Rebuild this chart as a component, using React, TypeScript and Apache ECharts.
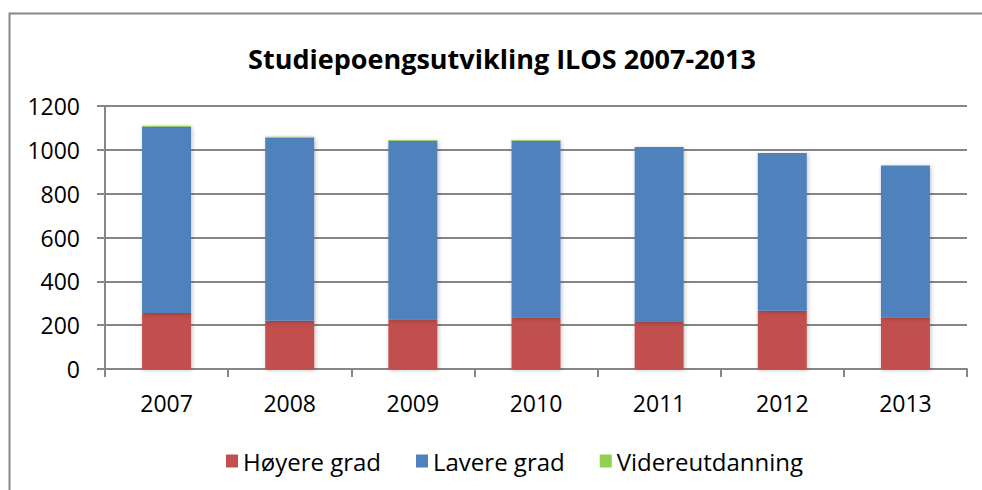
import React, { useEffect, useRef } from "react";
import * as echarts from "echarts";

const years = ["2007", "2008", "2009", "2010", "2011", "2012", "2013"];
const hoyereGrad = [255, 220, 227, 236, 214, 266, 236];
const lavereGrad = [850, 835, 815, 805, 799, 719, 693];
const videreutdanning = [5, 5, 3, 4, 0, 0, 0];
const seriesNames = ["Høyere grad", "Lavere grad", "Videreutdanning"];
const seriesColors = ["#C0504D", "#4F81BD", "#92D050"];
const titleText = "Studiepoengsutvikling ILOS 2007-2013";

const FONT = "'Open Sans', sans-serif";

export default function App() {
  const ref = useRef<HTMLDivElement>(null);
  useEffect(() => {
    document.body.style.margin = "0";
    const chart = echarts.init(ref.current!, null, { renderer: "svg" });
    const values = [hoyereGrad, lavereGrad, videreutdanning];
    chart.setOption({
      animation: false,
      backgroundColor: "#ffffff",
      title: {
        text: titleText,
        left: 497,
        top: 40,
        textAlign: "center",
        textStyle: { fontFamily: FONT, fontWeight: "bold", fontSize: 27, color: "#000" },
      },
      graphic: [
        {
          type: "rect",
          shape: { x: 9.5, y: 13.5, width: 1100, height: 600 },
          style: { fill: "none", stroke: "#888888", lineWidth: 2 },
          silent: true,
        },
      ],
      legend: {
        data: seriesNames,
        left: 221,
        top: 444,
        padding: 5,
        itemWidth: 12,
        itemHeight: 13,
        itemGap: 35,
        icon: "rect",
        textStyle: { fontFamily: FONT, fontSize: 24, color: "#000" },
      },
      grid: { left: 105, right: 15, top: 106, bottom: 121, containLabel: false },
      xAxis: {
        type: "category",
        data: years,
        axisLine: { show: true, lineStyle: { color: "#868686", width: 2 } },
        axisTick: { show: true, length: 8, lineStyle: { color: "#868686", width: 2 } },
        axisLabel: { fontFamily: FONT, fontSize: 23, color: "#000", margin: 22 },
      },
      yAxis: {
        type: "value",
        min: 0,
        max: 1200,
        interval: 200,
        axisLine: { show: true, lineStyle: { color: "#868686", width: 2 } },
        axisTick: { show: true, length: 8, lineStyle: { color: "#868686", width: 2 } },
        splitLine: { show: true, lineStyle: { color: "#868686", width: 2 } },
        axisLabel: {
          fontFamily: FONT,
          fontSize: 23,
          color: "#000",
          margin: 25,
          formatter: (v: number) => String(v),
        },
      },
      series: seriesNames.map((name, i) => ({
        name,
        type: "bar",
        stack: "total",
        data: values[i],
        barWidth: 49,
        itemStyle: {
          color: seriesColors[i],
          shadowColor: "rgba(0,0,0,0.25)",
          shadowBlur: 4,
          shadowOffsetX: 1,
          shadowOffsetY: 1,
        },
      })),
    });
    return () => chart.dispose();
  }, []);
  return <div ref={ref} style={{ width: 982, height: 490 }} />;
}
